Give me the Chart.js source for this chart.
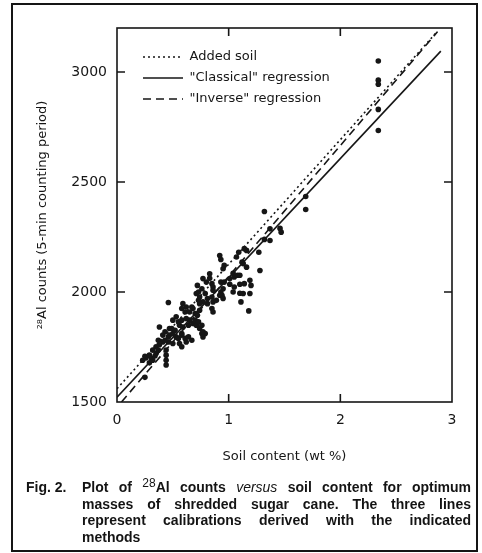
<!DOCTYPE html>
<html>
<head>
<meta charset="utf-8">
<script src="https://cdn.jsdelivr.net/npm/chart.js@4/dist/chart.umd.min.js"></script>
<style>
  html, body { margin: 0; padding: 0; background: #fff; }
  #wrap { position: relative; width: 482px; height: 553px; overflow: hidden; background: #fff; }
  #c { position: absolute; left: 0; top: 0; }
  #frame { position: absolute; left: 11px; top: 3px; width: 467px; height: 549px; box-sizing: border-box; border: 2px solid #151515; pointer-events: none; }
  #cap { position: absolute; left: 0; top: 479px; width: 482px; font-family: "Liberation Sans", Arial, sans-serif; font-weight: bold; font-size: 14px; line-height: 16.5px; color: #141414; }
  #cap .fig { position: absolute; left: 26px; top: 0; }
  #cap .body { position: absolute; left: 82px; top: 0; width: 389px; }
  #cap .ln { text-align: justify; text-align-last: justify; white-space: nowrap; }
  #cap .last { text-align: left; }
  #cap sup { font-size: 12px; font-weight: normal; vertical-align: 5px; line-height: 0; }
  #cap i { font-weight: normal; }
</style>
</head>
<body>
<div id="wrap">
  <canvas id="c" width="482" height="553"></canvas>
  <div id="frame"></div>
  <div id="cap">
    <span class="fig">Fig. 2.</span>
    <div class="body">
      <div class="ln">Plot of <sup>28</sup>Al counts <i>versus</i> soil content for optimum</div>
      <div class="ln">masses of shredded sugar cane. The three lines</div>
      <div class="ln">represent calibrations derived with the indicated</div>
      <div class="last">methods</div>
    </div>
  </div>
</div>
<script>
// ---- data ----
const soilX = [
  0.25, 0.23, 0.25, 0.26, 0.29, 0.29, 0.31, 0.32, 0.32, 0.35, 0.35, 0.37, 0.34,
  0.44, 0.44, 0.44, 0.44,
  0.37, 0.41, 0.46, 0.50, 0.56, 0.62, 0.58, 0.55, 0.38, 0.38,
  0.43, 0.46, 0.43, 0.41, 0.47, 0.47, 0.50, 0.53, 0.58, 0.61, 0.64, 0.67,
  0.49, 0.52, 0.58, 0.56, 0.59, 0.64, 0.68, 0.71, 0.74, 0.76, 0.77, 0.79, 0.77,
  0.53, 0.50, 0.55, 0.58, 0.62, 0.65, 0.70, 0.73, 0.76,
  0.59, 0.62, 0.58, 0.61, 0.65, 0.68, 0.70, 0.72, 0.74, 0.67,
  0.46,
  0.71, 0.74, 0.79, 0.81, 0.85, 0.86, 0.89, 0.81, 0.77, 0.74, 0.73,
  0.85, 0.86,
  0.73, 0.72, 0.76, 0.77, 0.80, 0.83, 0.83, 0.85, 0.86, 0.86,
  0.93, 0.95, 0.92, 0.93, 0.94, 0.95,
  0.92, 0.93, 0.96, 0.95, 0.96, 1.01, 1.01, 1.05, 1.08, 1.04, 1.10, 1.05, 1.10, 1.14, 1.20, 1.19, 1.04, 1.10, 1.13, 1.19, 1.11, 1.18,
  1.07, 1.09, 1.16, 1.14, 1.12, 1.13, 1.16, 1.27, 1.28,
  1.32, 1.32, 1.37, 1.37, 1.46, 1.47,
  1.69, 1.69,
  2.34, 2.34, 2.34, 2.34, 2.34
];
const countsY = [
  1612, 1690, 1708, 1700, 1713, 1678, 1698, 1690, 1736, 1721, 1751, 1736, 1709,
  1736, 1713, 1690, 1668,
  1781, 1773, 1773, 1766, 1766, 1773, 1751, 1789, 1841, 1760,
  1819, 1796, 1781, 1804, 1834, 1804, 1811, 1796, 1804, 1789, 1796, 1781,
  1834, 1826, 1811, 1849, 1841, 1849, 1857, 1849, 1834, 1811, 1796, 1811, 1819,
  1887, 1872, 1864, 1872, 1879, 1872, 1872, 1864, 1849,
  1947, 1932, 1925, 1909, 1909, 1925, 1902, 1894, 1917, 1932,
  1952,
  1993, 1977, 1993, 1970, 1977, 1955, 1962, 1947, 1955, 1947, 1962,
  1925, 1909,
  2000, 2030, 2015, 2061, 2045, 2083, 2062, 2038, 2023, 2008,
  2045, 2015, 1985, 2000, 1985, 1971,
  2166, 2148, 2121, 2106, 2045, 2035, 2061, 2068, 2076, 2085, 2076, 2023, 2035, 2038, 2030, 2053, 2000, 1994, 1993, 1993, 1955, 1914,
  2159, 2181, 2189, 2197, 2136, 2129, 2113, 2181, 2098,
  2366, 2239, 2234, 2287, 2289, 2272,
  2434, 2375,
  3050, 2963, 2944, 2830, 2734
];
// calibration line end points (x = soil %, y = counts)
const addedSoilX = [0, 2.87];
const addedSoilY = [1560, 3185];
const classicalX = [0, 2.90];
const classicalY = [1522, 3095];
const inverseX = [0.04, 2.87];
const inverseY = [1500, 3183];
// axes
const xTicks = [0, 1, 2, 3];
const yTicks = [1500, 2000, 2500, 3000];
const seriesNames = ['Added soil', '"Classical" regression', '"Inverse" regression'];

const ink = '#161616';
const pts = (xs, ys) => xs.map((x, i) => ({ x: x, y: ys[i] }));

const frameTicks = {
  id: 'frameTicks',
  afterDatasetsDraw(chart) {
    const { ctx, chartArea: a, scales: { x, y } } = chart;
    ctx.save();
    ctx.strokeStyle = ink;
    ctx.lineWidth = 1.6;
    ctx.strokeRect(a.left, a.top, a.right - a.left, a.bottom - a.top);
    const L = 8;
    ctx.beginPath();
    xTicks.forEach(v => {
      if (v === xTicks[0] || v === xTicks[xTicks.length - 1]) return;
      const px = x.getPixelForValue(v);
      ctx.moveTo(px, a.bottom); ctx.lineTo(px, a.bottom - L);
      ctx.moveTo(px, a.top); ctx.lineTo(px, a.top + L);
    });
    yTicks.forEach(v => {
      if (v === yTicks[0]) return;
      const py = y.getPixelForValue(v);
      ctx.moveTo(a.left, py); ctx.lineTo(a.left + L, py);
      ctx.moveTo(a.right, py); ctx.lineTo(a.right - L, py);
    });
    ctx.stroke();
    ctx.restore();
  }
};

const legendPlace = {
  id: 'legendPlace',
  afterLayout(chart) {
    const l = chart.legend;
    if (!l) return;
    const w = l.width, h = l.height;
    l.left = chart.chartArea.left + 18;
    l.top = chart.chartArea.top + 14.5;
    l.right = l.left + w;
    l.bottom = l.top + h;
  }
};

const tickFont = { family: 'DejaVu Sans', size: 14 };
const titleFont = { family: 'DejaVu Sans', size: 13 };

new Chart(document.getElementById('c'), {
  type: 'scatter',
  data: {
    datasets: [
      {
        label: 'data',
        data: pts(soilX, countsY),
        backgroundColor: ink,
        borderColor: ink,
        pointRadius: 2.8,
        pointBorderWidth: 0,
        order: 2
      },
      {
        label: seriesNames[0],
        data: pts(addedSoilX, addedSoilY),
        showLine: true,
        borderColor: ink,
        backgroundColor: ink,
        borderWidth: 1.6,
        borderDash: [2, 3],
        pointRadius: 0,
        order: 1
      },
      {
        label: seriesNames[1],
        data: pts(classicalX, classicalY),
        showLine: true,
        borderColor: ink,
        backgroundColor: ink,
        borderWidth: 1.6,
        borderDash: [],
        pointRadius: 0,
        order: 1
      },
      {
        label: seriesNames[2],
        data: pts(inverseX, inverseY),
        showLine: true,
        borderColor: ink,
        backgroundColor: ink,
        borderWidth: 1.6,
        borderDash: [8, 5],
        pointRadius: 0,
        order: 1
      }
    ]
  },
  options: {
    responsive: false,
    animation: false,
    devicePixelRatio: 1,
    layout: { padding: { left: 30, right: 30, top: 28, bottom: 81 } },
    plugins: {
      tooltip: { enabled: false },
      legend: {
        position: 'chartArea',
        align: 'start',
        labels: {
          filter: (item) => item.datasetIndex > 0,
          generateLabels: (chart) => Chart.defaults.plugins.legend.labels.generateLabels(chart).map(it => {
            const ds = chart.data.datasets[it.datasetIndex];
            it.lineDash = ds.borderDash || [];
            it.lineWidth = ds.borderWidth;
            it.strokeStyle = ds.borderColor;
            return it;
          }),
          usePointStyle: true,
          pointStyle: 'line',
          pointStyleWidth: 40,
          boxHeight: 13,
          padding: 8,
          color: ink,
          font: { family: 'DejaVu Sans', size: 13 }
        }
      }
    },
    scales: {
      x: {
        type: 'linear',
        min: 0, max: 3,
        afterFit: (s) => { s.height = 70; },
        afterBuildTicks: (s) => { s.ticks = xTicks.map(v => ({ value: v })); },
        grid: { display: false, drawTicks: false },
        border: { display: false },
        ticks: { color: ink, font: tickFont, padding: 10, callback: (v) => String(v) },
        title: { display: true, text: 'Soil content (wt %)', color: ink, font: titleFont, padding: { top: 0, bottom: 8 } }
      },
      y: {
        type: 'linear',
        min: 1500, max: 3200,
        afterFit: (s) => { s.width = 87; },
        afterBuildTicks: (s) => { s.ticks = yTicks.map(v => ({ value: v })); },
        grid: { display: false, drawTicks: false },
        border: { display: false },
        ticks: { color: ink, font: tickFont, padding: 10, callback: (v) => String(v) },
        title: { display: true, text: '²⁸Al counts (5-min counting period)', color: ink, font: titleFont, padding: { top: 5, bottom: 0 } }
      }
    }
  },
  plugins: [frameTicks, legendPlace]
});
</script>
</body>
</html>
